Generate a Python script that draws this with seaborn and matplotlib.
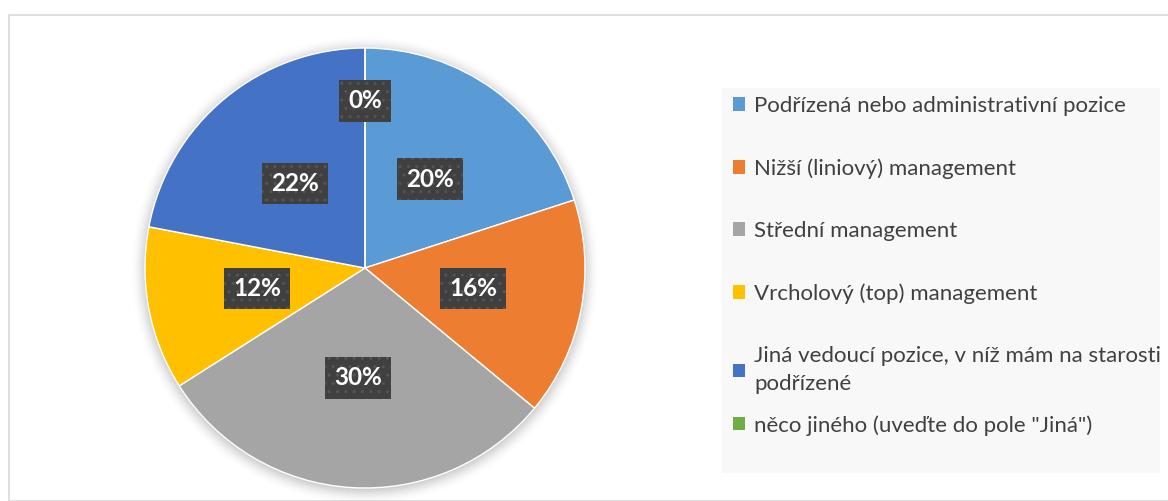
import numpy as np
import matplotlib
matplotlib.use("Agg")
import matplotlib.pyplot as plt
import seaborn as sns
from matplotlib.patches import Rectangle, Circle, Patch

categories = ["Podřízená nebo administrativní pozice",
              "Nižší (liniový) management",
              "Střední management",
              "Vrcholový (top) management",
              "Jiná vedoucí pozice, v níž mám na starosti\npodřízené",
              "něco jiného (uveďte do pole \"Jiná\")"]
values = [20, 16, 30, 12, 22, 0]
colors = ["#5B9BD5", "#ED7D31", "#A5A5A5", "#FFC000", "#4472C4", "#70AD47"]

sns.set_theme(style="white")
plt.rcParams['font.family'] = ['Lato', 'DejaVu Sans']

W, H = 1168, 501
fig = plt.figure(figsize=(W / 100, H / 100), dpi=100)

# chart border
fig.patches.append(Rectangle((9 / W, 0), 1.2, 1 - 15 / H, transform=fig.transFigure,
                             facecolor="white", edgecolor="#D9D9D9", lw=1.2, zorder=-5))

# pie: centre (365, 268) px, radius 220 px
cx, cy, r = 365, H - 268, 220
m = 1.1
ax = fig.add_axes([(cx - m * r) / W, (cy - m * r) / H, 2 * m * r / W, 2 * m * r / H])

# soft shadow around the pie
for rr, a in zip(np.linspace(1.06, 1.0, 8), np.linspace(0.008, 0.04, 8)):
    ax.add_patch(Circle((0, -0.01), rr, color="black", alpha=a, lw=0, zorder=0))

wedges, texts, autotexts = ax.pie(values, colors=colors, startangle=90, counterclock=False,
                                  autopct="%1.0f%%", pctdistance=0.5, radius=1,
                                  wedgeprops=dict(linewidth=1, edgecolor="white"),
                                  textprops=dict(color="white", fontsize=17.5, fontweight="bold"))
ax.set_xlim(-m, m)
ax.set_ylim(-m, m)
ax.set_aspect("equal")
ax.axis("off")
for w in wedges:
    w.set_zorder(2)
for t in autotexts:
    t.set_zorder(5)
    t.set_bbox(dict(boxstyle="square,pad=0.38", facecolor="#404040", edgecolor="#555555",
                    hatch="..", lw=0))
# the 0% label sits higher, near the rim
autotexts[5].set_position((0, 0.76))

# legend with its own gray panel
fig.patches.append(Rectangle((722 / W, 1 - 473 / H), 438 / W, 385 / H, transform=fig.transFigure,
                             facecolor="#F8F8F8", edgecolor="none", zorder=-4))
handles = [Patch(facecolor=c, edgecolor="none") for c in colors]
leg_kw = dict(loc="upper left", frameon=False, fontsize=16, labelcolor="#404040",
              handlelength=0.55, handleheight=0.55, handletextpad=0.4, borderaxespad=0,
              borderpad=0)
leg1 = fig.legend(handles[:5], categories[:5], bbox_to_anchor=(733 / W, 1 - 96 / H),
                  labelspacing=1.9, **leg_kw)
for t in leg1.get_texts():
    t.set_linespacing(1.5)
leg2 = fig.legend(handles[5:], categories[5:], bbox_to_anchor=(733 / W, 1 - 415 / H), **leg_kw)

plt.savefig("out.png", dpi=100)
